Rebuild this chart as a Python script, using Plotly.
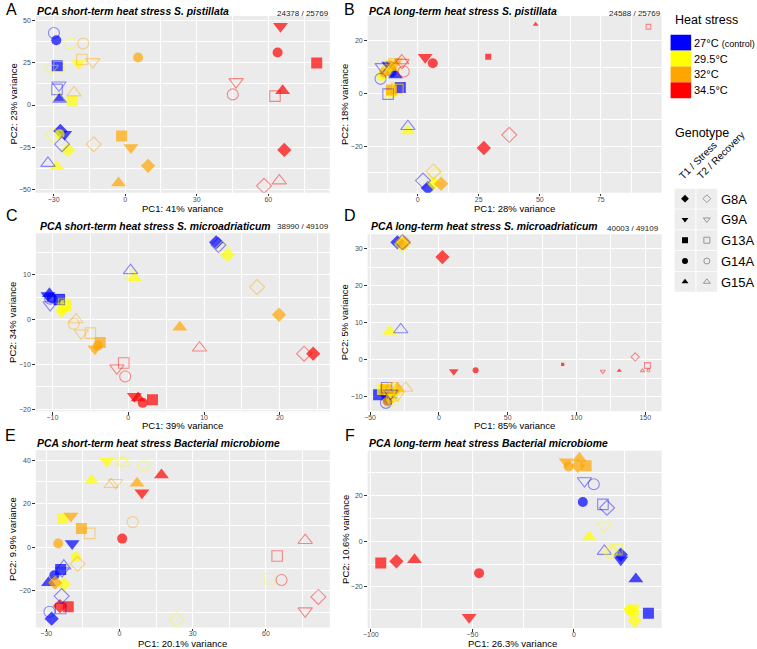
import plotly.graph_objects as go

W, H = 757, 649
FONT = "Liberation Sans, Arial, Helvetica, sans-serif"

# ---------------- data ----------------
temps = ["27°C", "29.5°C", "32°C", "34.5°C"]
temp_colors = ["#0000FF", "#FFFF00", "#FFA500", "#FF0000"]
genotypes = ["G8A", "G9A", "G13A", "G14A", "G15A"]
timepoints = ["T1 / Stress", "T2 / Recovery"]

panel_letters = ["A", "B", "C", "D", "E", "F"]
panel_titles = [
    "PCA short-term heat stress S. pistillata",
    "PCA long-term heat stress S. pistillata",
    "PCA short-term heat stress S. microadriaticum",
    "PCA long-term heat stress S. microadriaticum",
    "PCA short-term heat stress Bacterial microbiome",
    "PCA long-term heat stress Bacterial microbiome",
]
pc1_labels = ["PC1: 41% variance", "PC1: 28% variance", "PC1: 39% variance",
              "PC1: 85% variance", "PC1: 20.1% variance", "PC1: 26.3% variance"]
pc2_labels = ["PC2: 23% variance", "PC2: 18% variance", "PC2: 34% variance",
              "PC2: 5% variance", "PC2: 9.9% variance", "PC2: 10.6% variance"]
gene_counts = ["24378 / 25769", "24588 / 25769", "38990 / 49109", "40003 / 49109", None, None]

# sample order: temperature -> genotype -> timepoint (T1, T2)
a_pc1 = [-27.2, -26.5, -25.4, -27.8, -28.5, -28.6, -28.9, -29.9, -27.5, -32.4,
         -24.0, -30.3, -19.6, -31.0, -22.2, -27.8, -27.5, -23.0, -28.6, -28.0,
         9.6, -13.2, 2.4, -13.6, -1.5, -18.2, 5.4, -17.6, -2.8, -21.5,
         66.7, 58.2, 65.1, 46.5, 80.3, 62.8, 63.9, 45.1, 66.0, 64.6]
a_pc2 = [-15.4, -23.3, -17.4, 11.8, 23.3, 9.3, 38.5, 42.8, 3.4, -34.6,
         -26.7, -17.8, 24.7, 21.7, 2.6, 22.8, -17.4, 36.5, -36.5, 4.0,
         -36.1, -23.3, -25.3, 25.7, -18.4, 27.0, 28.2, 36.5, -46.4, 7.3,
         -26.7, -48.0, 46.8, 13.8, 25.0, 5.3, 31.2, 6.3, 8.5, -45.0]

b_pc1 = [4.2, 2.2, -11.8, -14.5, -7.1, -12.1, -10.7, -15.2, -9.1, -4.0,
         6.5, 7.2, -12.1, -11.1, -11.0, -8.0, -14.8, -13.5, -4.0, -10.0,
         9.6, 6.5, -9.8, -9.1, -10.7, -8.5, -13.8, -12.5, -11.0, -8.5,
         27.1, 37.5, 3.1, -6.4, 28.9, 94.5, 6.2, -5.7, 48.3, -6.5]
b_pc2 = [-35.9, -33.1, 10.9, 10.2, 2.3, -0.2, 8.0, 5.6, 7.1, -12.5,
         -34.0, -31.0, 9.0, 11.5, 0.8, 1.5, 6.7, 7.5, -14.2, 10.0,
         -34.3, -29.6, 11.3, 12.1, 1.4, 2.0, 8.0, 9.0, 10.0, 11.0,
         -20.7, -15.7, 13.8, 11.8, 14.0, 25.4, 11.5, 8.4, 26.3, 12.5]

c_pc1 = [11.6, 11.9, -10.6, -10.3, -9.1, -9.1, -10.1, -10.3, -10.4, 0.3,
         13.1, 12.5, -8.8, -8.5, -8.2, -8.5, -8.6, -8.3, 0.8, 0.5,
         19.9, 17.0, -4.4, -6.2, -3.7, -5.0, -4.0, -7.2, 6.8, -6.9,
         24.4, 23.2, 0.8, -1.5, 3.2, -0.6, 1.9, -0.4, 1.3, 9.4]
c_pc2 = [17.3, 16.7, 5.4, 3.3, 4.5, 4.5, 4.8, 4.7, 5.8, 11.0,
         14.5, 16.0, 1.7, 3.0, 3.1, 3.5, 2.5, 3.2, 9.4, 9.8,
         1.1, 7.3, -6.5, -3.0, -5.1, -3.0, -5.8, -0.9, -1.7, 0.0,
         -7.6, -7.6, -17.1, -10.8, -17.9, -9.7, -18.6, -12.7, -17.5, -6.3]

d_pc1 = [-30.1, -26.5, -38.0, -35.0, -43.8, -38.0, -37.0, -38.5, -36.0, -27.7,
         -27.5, -26.5, -34.0, -32.0, -41.0, -36.0, -35.0, -33.0, -35.7, -31.0,
         -25.3, -26.0, -33.0, -30.0, -38.5, -33.5, -37.5, -34.0, -30.1, -24.1,
         2.6, 142.7, 10.8, 119.1, 90.0, 151.6, 26.7, 152.3, 131.1, 148.0]
d_pc2 = [31.8, 31.8, -10.0, -9.0, -9.4, -7.5, -11.0, -11.6, -9.5, 8.2,
         31.5, 31.0, -9.5, -8.5, -8.0, -8.0, -10.5, -11.0, 7.7, -8.5,
         31.6, 32.0, -9.0, -9.5, -8.0, -7.5, -11.2, -10.0, -7.6, -7.6,
         27.8, 0.8, -3.1, -3.1, -1.2, -1.5, -2.8, -2.8, -2.9, -2.9]

e_pc1 = [-27.8, -23.7, -19.4, -23.5, -24.1, -24.1, -26.7, -28.7, -29.1, -22.8,
         -22.8, 23.5, -5.2, 0.9, -23.3, 61.7, -17.9, 9.9, -11.5, 1.3,
         -26.4, -17.2, -19.9, -1.6, -15.6, -12.2, -25.1, 5.4, 7.2, -3.4,
         -24.4, 81.5, 9.2, 76.1, -21.0, 64.6, 1.1, 66.4, 17.2, 76.1]
e_pc2 = [-33.0, -22.6, 1.6, -11.0, -10.3, -28.3, -13.0, -29.8, -16.4, -8.7,
         -17.2, -33.6, 39.6, 39.6, 13.2, -14.6, -4.6, 37.6, 30.7, 39.0,
         -16.4, -7.7, 14.3, 29.7, 8.5, 6.3, 1.6, 11.5, 29.4, 28.9,
         -27.2, -23.0, 25.0, -29.5, -27.5, -4.1, 3.9, -15.2, 33.2, 3.1]

f_pc1 = [23.1, 16.3, 23.1, 5.2, 36.7, 14.3, 4.4, 9.8, 30.5, 15.0,
         30.0, 17.9, 28.0, 15.0, 29.3, 21.2, 27.2, 18.5, 7.6, 19.5,
         2.0, None, -3.8, None, 6.0, None, -2.6, None, 2.7, None,
         -87.4, None, -51.6, None, -95.1, None, -46.7, None, -78.5, None]
f_pc2 = [-5.9, 14.7, -8.1, 26.5, -31.6, 16.2, 17.2, 25.0, -16.6, -4.4,
         -34.9, -4.8, -31.0, 6.6, -30.2, -3.7, -30.2, -5.0, 1.9, -4.2,
         33.1, None, 34.9, None, 33.1, None, 32.8, None, 36.4, None,
         -8.8, None, -33.4, None, -9.5, None, -14.0, None, -8.1, None]

pc1_sets = [a_pc1, b_pc1, c_pc1, d_pc1, e_pc1, f_pc1]
pc2_sets = [a_pc2, b_pc2, c_pc2, d_pc2, e_pc2, f_pc2]

# ---------------- styles / layout geometry ----------------
symbols = {"G8A": "diamond", "G9A": "triangle-down", "G13A": "square",
           "G14A": "circle", "G15A": "triangle-up"}
size_filled = {"G8A": 11, "G9A": 13, "G13A": 11, "G14A": 10, "G15A": 13}
size_open = {"G8A": 11.5, "G9A": 12.5, "G13A": 10.5, "G14A": 11, "G15A": 12.5}
# per-panel marker size scaling (index in sample order -> factor)
size_scale = [{}, {34: 0.55, 35: 0.45, 38: 0.4}, {},
              {31: 0.55, 32: 0.65, 33: 0.35, 34: 0.3, 35: 0.55, 36: 0.6,
               37: 0.25, 38: 0.35, 39: 0.3}, {}, {}]

panels = [
    dict(box=(31, 327, 16, 193), xr=(-37.5, 85.8), yr=(-52.1, 52.9), dx=30, dy=25),
    dict(box=(365, 661, 16, 193), xr=(-20.5, 99.9), yr=(-37.7, 29.5), dx=25, dy=20),
    dict(box=(31, 327, 233.5, 412), xr=(-12.2, 26.6), yr=(-20.5, 19.35), dx=10, dy=10),
    dict(box=(365, 661, 234.5, 412), xr=(-51.8, 161.9), yr=(-13.9, 34.0), dx=50, dy=10),
    dict(box=(31, 327, 451, 628.5), xr=(-34.3, 86.2), yr=(-37.1, 44.6), dx=30, dy=20),
    dict(box=(365, 661, 451.5, 629), xr=(-101.6, 43.2), yr=(-38.1, 39.7), dx=50, dy=20),
]
letter_pos = [(7, 9.5), (347, 9.5), (7, 216), (347, 216), (6, 436.5), (347, 436.5)]
title_pos = [(30, 12), (364.7, 12), (33, 227.3), (366.3, 227.3), (29.7, 444.3), (364.7, 444.3)]
count_pos = [(328, 13.3), (662, 13.3), (328, 226.7), (660, 229), None, None]
ytitle_pos = [(8.3, 104.5), (342, 104.5), (7, 322.5), (342, 323), (7, 540), (342, 540)]
xtitle_pos = [(179, 209.3), (513, 209.3), (179, 426), (513, 426), (179, 644), (511, 644)]


def fx(px):
    return px / W


def fy(py):
    return 1 - py / H


def rgba(hexc, a):
    h = hexc.lstrip("#")
    r, g, b = int(h[0:2], 16), int(h[2:4], 16), int(h[4:6], 16)
    return f"rgba({r},{g},{b},{a})"


# sample descriptors
s_temp, s_geno, s_time = [], [], []
for ti in range(len(temps)):
    for gi in range(len(genotypes)):
        for tp in range(len(timepoints)):
            s_temp.append(ti)
            s_geno.append(gi)
            s_time.append(tp)

fig = go.Figure()
layout = dict(
    width=W, height=H, margin=dict(l=0, r=0, t=0, b=0),
    paper_bgcolor="white", plot_bgcolor="rgba(0,0,0,0)",
    showlegend=False, font=dict(family=FONT, color="black"),
)
shapes = []
annotations = []


def ann(text, x, y, size, xanchor="center", yanchor="middle", angle=0, color="black"):
    annotations.append(dict(text=text, x=fx(x), y=fy(y), xref="paper", yref="paper",
                            xanchor=xanchor, yanchor=yanchor, textangle=angle,
                            showarrow=False, font=dict(size=size, color=color, family=FONT)))


for i, p in enumerate(panels):
    n = "" if i == 0 else str(i + 1)
    pc1, pc2 = pc1_sets[i], pc2_sets[i]
    order = [k for k in range(40) if s_time[k] == 0] + [k for k in range(40) if s_time[k] == 1]
    xs, ys, syms, cols, sizes, lws = [], [], [], [], [], []
    for k in order:
        if pc1[k] is None:
            continue
        g = genotypes[s_geno[k]]
        c = temp_colors[s_temp[k]]
        sc = size_scale[i].get(k, 1.0)
        xs.append(pc1[k])
        ys.append(pc2[k])
        if s_time[k] == 0:
            syms.append(symbols[g])
            cols.append(c)
            sizes.append(size_filled[g] * sc)
            lws.append(0)
        else:
            syms.append(symbols[g] + "-open")
            cols.append(rgba(c, 0.62))
            sizes.append(size_open[g] * sc)
            lws.append(1.1)
    fig.add_trace(go.Scatter(
        x=xs, y=ys, mode="markers", xaxis="x" + n, yaxis="y" + n,
        marker=dict(symbol=syms, color=cols, size=sizes, line=dict(width=lws, color=cols)),
        hoverinfo="skip", showlegend=False))

    x0, x1, y0, y1 = p["box"]
    common = dict(showgrid=True, gridcolor="white", gridwidth=1.1, zeroline=False,
                  showline=False, ticks="outside", ticklen=2.5, tickwidth=0.7,
                  tickcolor="#333333", tickfont=dict(size=7, color="#4D4D4D", family=FONT),
                  tick0=0, fixedrange=True)
    layout["xaxis" + n] = dict(common, domain=[fx(x0), fx(x1)], range=list(p["xr"]),
                               anchor="y" + n, dtick=p["dx"], ticklabelstandoff=-3,
                               minor=dict(tick0=0, dtick=p["dx"] / 2, showgrid=True,
                                          gridcolor="white", gridwidth=0.55, ticks=""))
    layout["yaxis" + n] = dict(common, domain=[fy(y1), fy(y0)], range=list(p["yr"]),
                               anchor="x" + n, dtick=p["dy"],
                               minor=dict(tick0=0, dtick=p["dy"] / 2, showgrid=True,
                                          gridcolor="white", gridwidth=0.55, ticks=""))
    shapes.append(dict(type="rect", xref="x" + n + " domain", yref="y" + n + " domain",
                       x0=0, x1=1, y0=0, y1=1, fillcolor="#EBEBEB", line=dict(width=0),
                       layer="below"))

    lx, ly = letter_pos[i]
    ann(panel_letters[i], lx, ly, 16)
    tx, ty = title_pos[i]
    ann("<b><i>" + panel_titles[i] + "</i></b>", tx, ty, 10.4, xanchor="left")
    if count_pos[i] is not None:
        cx, cy = count_pos[i]
        ann(gene_counts[i], cx, cy, 8, xanchor="right", color="#1A1A1A")
    yx, yy = ytitle_pos[i]
    ann(pc2_labels[i], yx, yy, 9.5, angle=-90)
    xx, xy = xtitle_pos[i]
    ann(pc1_labels[i], xx, xy, 9.5)

# ---------------- legends ----------------
ann("Heat stress", 672, 20, 12.5, xanchor="left")
row_h = 15.9
for ti, (t, c) in enumerate(zip(temps, temp_colors)):
    top = 34.8 + ti * row_h
    shapes.append(dict(type="rect", xref="paper", yref="paper",
                       x0=fx(670), x1=fx(690.7), y0=fy(top + row_h), y1=fy(top),
                       fillcolor=c, line=dict(width=0)))
    label = t + (' <span style="font-size:9px">(control)</span>' if ti == 0 else "")
    ann(label, 692, top + row_h / 2, 11, xanchor="left")

ann("Genotype", 672, 133, 12.5, xanchor="left")
ann(timepoints[0], 697.5, 161, 10, angle=-45)
ann(timepoints[1], 720.3, 156, 10, angle=-45)

cols_x = [(674, 695), (696, 717)]
row_top, key_h = 189, 20.8
kx, ky, ksym, kcol, klw = [], [], [], [], []
for gi, g in enumerate(genotypes):
    top = row_top + gi * key_h
    for tp, (ax0, ax1) in enumerate(cols_x):
        shapes.append(dict(type="rect", xref="paper", yref="paper", layer="below",
                           x0=fx(ax0), x1=fx(ax1), y0=fy(top + key_h - 0.8), y1=fy(top),
                           fillcolor="#EDEDED", line=dict(width=0)))
        kx.append((ax0 + ax1) / 2)
        ky.append(top + key_h / 2 - 0.4)
        ksym.append(symbols[g] if tp == 0 else symbols[g] + "-open")
        kcol.append("black" if tp == 0 else "#8C8C8C")
        klw.append(0 if tp == 0 else 0.9)
    ann(g, 719, top + key_h / 2, 13, xanchor="left")

fig.add_trace(go.Scatter(x=kx, y=ky, mode="markers", xaxis="x7", yaxis="y7",
                         marker=dict(symbol=ksym, color=kcol, size=6,
                                     line=dict(width=klw, color=kcol)),
                         hoverinfo="skip", showlegend=False, cliponaxis=False))
layout["xaxis7"] = dict(domain=[0, 1], range=[0, W], visible=False, fixedrange=True,
                        anchor="y7")
layout["yaxis7"] = dict(domain=[0, 1], range=[H, 0], visible=False, fixedrange=True,
                        anchor="x7")

layout["shapes"] = shapes
layout["annotations"] = annotations
fig.update_layout(**layout)
fig.write_html("out.html", config={"displayModeBar": False},
               post_script="document.body.style.margin='0';document.body.style.padding='0';")
